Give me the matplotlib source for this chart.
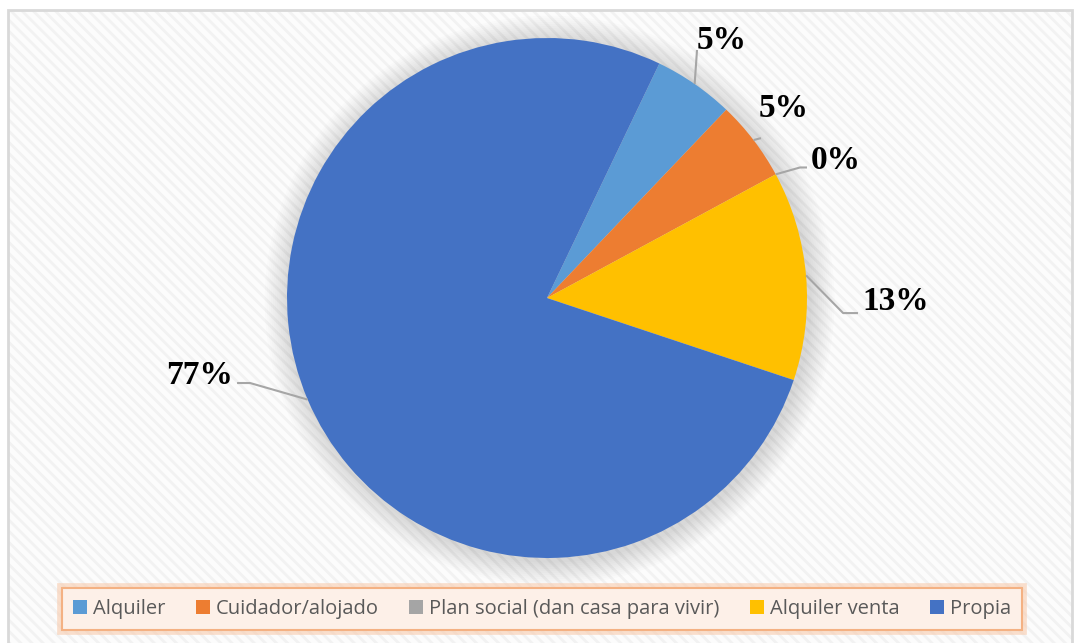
import matplotlib
matplotlib.use('Agg')
import numpy as np
import matplotlib.pyplot as plt
import matplotlib.patches as mpatches
import matplotlib.patheffects as pe

# datos del gráfico
categorias = ['Alquiler', 'Cuidador/alojado', 'Plan social (dan casa para vivir)',
              'Alquiler venta', 'Propia']
valores = [5, 5, 0, 13, 77]
etiquetas = ['5%', '5%', '0%', '13%', '77%']
colores = ['#5B9BD5', '#ED7D31', '#A5A5A5', '#FFC000', '#4472C4']

# posiciones de etiquetas (unidades del radio) y codo de la línea guía
pos_etiqueta = [(0.67, 0.99), (0.91, 0.73), (1.11, 0.53), (1.34, -0.015), (-1.335, -0.30)]
codo_linea = [(0.577, 0.954), (0.823, 0.615), (0.973, 0.502), (1.139, -0.058), (-1.142, -0.327)]
fin_linea = [(0.577, 0.954), (0.823, 0.615), (1.0, 0.502), (1.196, -0.058), (-1.192, -0.327)]

W, H = 1076, 643
cx, cy, R = 547, 298, 260

plt.rcParams['hatch.linewidth'] = 2.0

fig = plt.figure(figsize=(W / 100, H / 100), dpi=100)
fig.patch.set_facecolor('white')
ax = fig.add_axes([0, 0, 1, 1])
ax.set_xlim(-cx / R, (W - cx) / R)
ax.set_ylim(-(H - cy) / R, cy / R)
ax.axis('off')

# fondo con trama suave y borde
x0, y0 = (8 - cx) / R, (cy - 10) / R
x1, y1 = (1072 - cx) / R, (cy - 660) / R
ax.add_patch(mpatches.Rectangle((x0, y1), x1 - x0, y0 - y1, facecolor='#FCFCFC',
                                edgecolor='#F2F2F2', linewidth=0, hatch='\\\\\\', zorder=0))
ax.add_patch(mpatches.Rectangle((x0, y1), x1 - x0, y0 - y1, facecolor='none',
                                edgecolor='#D9D9D9', linewidth=2, zorder=0.5))

# sombra difusa del pastel
for i in range(12):
    r = 1.0 + 0.008 * (i + 1)
    ax.add_patch(mpatches.Circle((0.01, -0.01), r, facecolor='#000000', alpha=0.010,
                                 edgecolor='none', zorder=1))

inicio = 90 - 25.6
wedges, _ = ax.pie(valores, colors=colores, startangle=inicio, counterclock=False,
                   radius=1.0, center=(0, 0), frame=False,
                   wedgeprops=dict(linewidth=0, zorder=2))
ax.set_xlim(-cx / R, (W - cx) / R)
ax.set_ylim(-(H - cy) / R, cy / R)
ax.set_aspect('auto')

for w, txt, lp, cp, fp in zip(wedges, etiquetas, pos_etiqueta, codo_linea, fin_linea):
    ang = np.deg2rad((w.theta1 + w.theta2) / 2)
    px, py = np.cos(ang), np.sin(ang)
    ax.plot([px, cp[0], fp[0]], [py, cp[1], fp[1]], color='#A6A6A6', linewidth=1.5,
            zorder=3, solid_capstyle='butt')
    ax.text(lp[0], lp[1], txt, ha='center', va='center', fontsize=24,
            fontweight='bold', family='Liberation Serif', color='black', zorder=4)

# leyenda
handles = [mpatches.Patch(facecolor=c, edgecolor='none') for c in colores]
leg = fig.legend(handles, categorias, loc='center', bbox_to_anchor=(542 / W, 1 - 609 / H),
                 ncol=5, frameon=True, fancybox=False, handlelength=0.7, handleheight=0.7,
                 handletextpad=0.3, columnspacing=1.5, borderpad=0.55,
                 prop={'family': 'Open Sans', 'size': 14.5})
for t in leg.get_texts():
    t.set_color('#595959')
fr = leg.get_frame()
fr.set_facecolor('#FDF0E8')
fr.set_edgecolor('#F4B183')
fr.set_linewidth(1.5)
fr.set_alpha(1)
fr.set_path_effects([pe.Stroke(linewidth=7, foreground='#F8CBAD', alpha=0.6), pe.Normal()])

fig.savefig('out.png', dpi=100, facecolor='white')
